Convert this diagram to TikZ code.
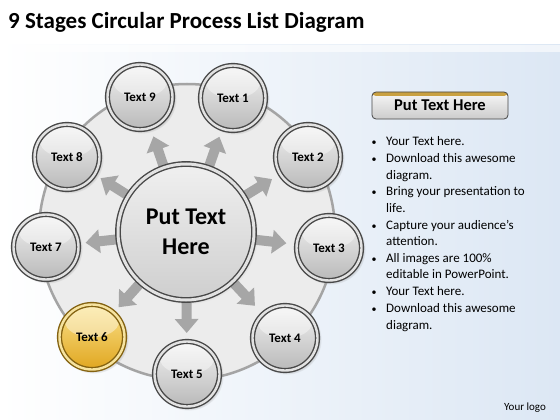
\documentclass[tikz,border=0pt]{standalone}
\usepackage{fontspec}
\setmainfont{Carlito}
\usetikzlibrary{calc,shadows,arrows.meta}
\pgfdeclarelayer{bg}
\pgfsetlayers{bg,main}
\definecolor{ringdark}{HTML}{484848}
\definecolor{ringlight}{HTML}{E2E2E2}
\definecolor{discfill}{HTML}{ECECEC}
\definecolor{discedge}{HTML}{A4A4A4}
\definecolor{arrowgray}{HTML}{A6A6A6}
\definecolor{bgblue}{HTML}{DCE7F4}
\definecolor{golddark}{HTML}{846210}
\definecolor{goldlight}{HTML}{F6E3A0}
\definecolor{goldtop}{HTML}{FBE38C}
\definecolor{goldbot}{HTML}{E0A620}
\definecolor{bandgold}{HTML}{C9A040}
\begin{document}
\begin{tikzpicture}[x=1pt,y=-1pt,
  sat/.style={circle, minimum size=65pt, inner sep=0pt, draw=ringdark, line width=1.4pt,
    double=ringlight, double distance=2.4pt, top color=gray!10, bottom color=gray!55,
    font=\bfseries\fontsize{13}{15}\selectfont,
    circular drop shadow={shadow xshift=1.5pt, shadow yshift=-1.5pt, opacity=.5, shadow scale=1.08},
    path picture={\fill[white,opacity=.4] ($(path picture bounding box.center)!0.48!(path picture bounding box.north)$) ellipse [x radius=27pt, y radius=16pt];}},
  goldsat/.style={sat, draw=golddark, double=goldlight, top color=goldtop, bottom color=goldbot},
  hub/.style={circle, minimum size=136pt, inner sep=0pt, draw=ringdark, line width=1.4pt,
    double=ringlight, double distance=3pt, top color=gray!12, bottom color=gray!38,
    align=center, font=\bfseries\fontsize{24}{30}\selectfont,
    circular drop shadow={shadow xshift=1.5pt, shadow yshift=-1.5pt, opacity=.4, shadow scale=1.04}},
  blockarrow/.style={draw=arrowgray, line width=10pt, -{Triangle[width=23pt,length=14pt]}},
  headbox/.style={rectangle, rounded corners=4pt, minimum width=136pt, minimum height=27pt,
    draw=gray!55!black, line width=0.8pt, top color=gray!6, bottom color=gray!40,
    font=\bfseries\fontsize{16.5}{19}\selectfont,
    path picture={\fill[bandgold] (path picture bounding box.north west) rectangle ($(path picture bounding box.north east)+(0,4)$);}},
  bul/.style={anchor=base, font=\fontsize{10}{12}\selectfont, inner sep=0pt},
  line/.style={anchor=base west, font=\fontsize{13}{16}\selectfont, inner sep=0pt},
  title/.style={anchor=west, font=\bfseries\fontsize{23}{27}\selectfont, inner sep=0pt}
]
\useasboundingbox (0,0) rectangle (560,420);

% nodes
\node[hub] (c) at (186,232) {Put Text\\Here};
\node[sat] (s1) at (233,98) {Text 1};
\node[sat] (s2) at (308,157) {Text 2};
\node[sat] (s3) at (329,248) {Text 3};
\node[sat] (s4) at (285,338) {Text 4};
\node[sat] (s5) at (187,374) {Text 5};
\node[goldsat] (s6) at (92,337) {Text 6};
\node[sat] (s7) at (46,247) {Text 7};
\node[sat] (s8) at (67,157) {Text 8};
\node[sat] (s9) at (140,97) {Text 9};

\begin{pgfonlayer}{bg}
  \fill[white] (0,0) rectangle (560,45);
  \fill[left color=white, right color=bgblue] (0,45) rectangle (560,420);
  \fill[white, opacity=.6] (0,45) rectangle (560,52);
  \draw[draw=discedge, line width=2.5pt, fill=discfill] (187,232) circle (148);
  \foreach \i in {1,...,9} {
    \draw[blockarrow] ($(c)!50pt!(s\i)$) -- ($(c)!101pt!(s\i)$);
  }
\end{pgfonlayer}

\node[title] (t) at (8,22) {9 Stages Circular Process List Diagram};

\node[headbox] (h) at (440,105.5) {Put Text Here};

\foreach \y/\txt in {145/Your Text here., 162/Download this awesome, 179/diagram.,
  195/Bring your presentation to, 212/life., 229/Capture your audience’s, 245/attention.,
  262/All images are 100\%, 278/editable in PowerPoint., 295/Your Text here.,
  312/Download this awesome, 329/diagram.} {
  \node[line] at (386,\y) {\txt};
}
\foreach \y in {145,162,195,229,262,295,312} {
  \node[bul] at (374,\y) {•};
}

\node[font=\fontsize{11}{13}\selectfont, inner sep=0pt] (logo) at (525,408) {Your logo};
\end{tikzpicture}
\end{document}
